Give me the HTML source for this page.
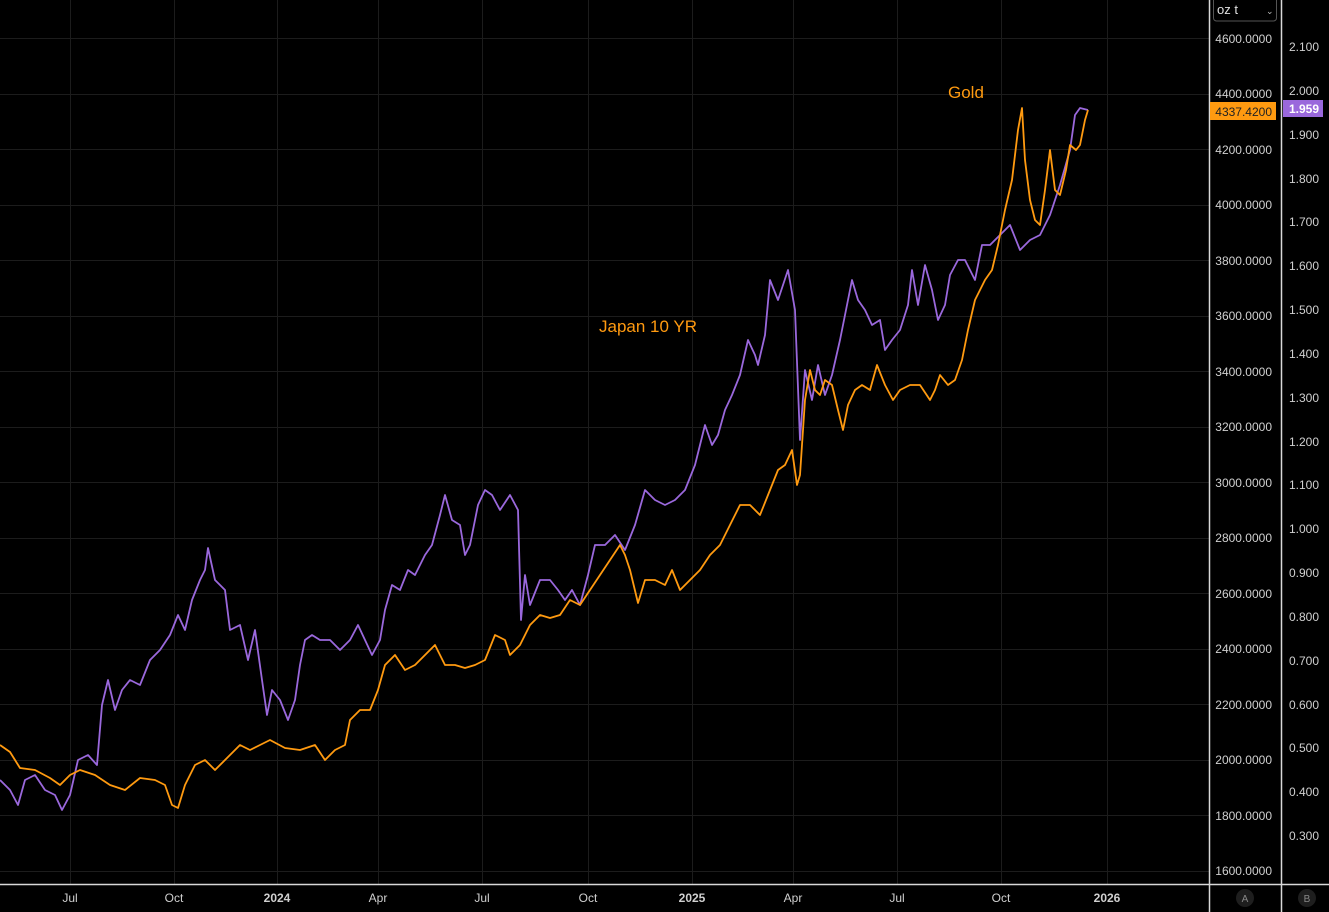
<!DOCTYPE html>
<html><head><meta charset="utf-8"><style>
html,body{margin:0;padding:0;background:#000;}
svg{display:block;font-family:"Liberation Sans",sans-serif;}
</style></head><body>
<svg width="1329" height="912" viewBox="0 0 1329 912" xmlns="http://www.w3.org/2000/svg">
<rect width="1329" height="912" fill="#000"/>
<g stroke="#1c1c1c" stroke-width="1">
<line x1="0" x2="1209" y1="38.5" y2="38.5"/><line x1="0" x2="1209" y1="94.5" y2="94.5"/>
<line x1="0" x2="1209" y1="149.5" y2="149.5"/><line x1="0" x2="1209" y1="205.5" y2="205.5"/>
<line x1="0" x2="1209" y1="260.5" y2="260.5"/><line x1="0" x2="1209" y1="316.5" y2="316.5"/>
<line x1="0" x2="1209" y1="371.5" y2="371.5"/><line x1="0" x2="1209" y1="427.5" y2="427.5"/>
<line x1="0" x2="1209" y1="482.5" y2="482.5"/><line x1="0" x2="1209" y1="538.5" y2="538.5"/>
<line x1="0" x2="1209" y1="593.5" y2="593.5"/><line x1="0" x2="1209" y1="649.5" y2="649.5"/>
<line x1="0" x2="1209" y1="704.5" y2="704.5"/><line x1="0" x2="1209" y1="760.5" y2="760.5"/>
<line x1="0" x2="1209" y1="815.5" y2="815.5"/><line x1="0" x2="1209" y1="871.5" y2="871.5"/>
<line y1="0" y2="884" x1="70.5" x2="70.5"/><line y1="0" y2="884" x1="174.5" x2="174.5"/>
<line y1="0" y2="884" x1="277.5" x2="277.5"/><line y1="0" y2="884" x1="378.5" x2="378.5"/>
<line y1="0" y2="884" x1="482.5" x2="482.5"/><line y1="0" y2="884" x1="588.5" x2="588.5"/>
<line y1="0" y2="884" x1="692.5" x2="692.5"/><line y1="0" y2="884" x1="793.5" x2="793.5"/>
<line y1="0" y2="884" x1="897.5" x2="897.5"/><line y1="0" y2="884" x1="1001.5" x2="1001.5"/>
<line y1="0" y2="884" x1="1107.5" x2="1107.5"/>
</g>
<g stroke="#d8d8d8" stroke-width="1.5">
<line x1="1209.5" x2="1209.5" y1="0" y2="912"/>
<line x1="1281.5" x2="1281.5" y1="0" y2="912"/>
<line x1="0" x2="1329" y1="884.5" y2="884.5"/>
</g>
<polyline fill="none" stroke="#9a68dc" stroke-width="1.8" stroke-linejoin="round" points="0,780 10,790 18,805 25,780 35,775 45,790 55,795 62,810 70,795 78,760 88,755 97,765 102,705 108,680 115,710 122,690 130,680 140,685 150,660 160,650 170,635 178,615 185,630 192,600 200,580 205,570 208,548 215,580 225,590 230,630 240,625 248,660 255,630 262,680 267,715 272,690 280,700 288,720 295,700 300,665 305,640 312,635 320,640 330,640 340,650 350,640 358,625 365,640 372,655 380,640 385,610 392,585 400,590 408,570 415,575 425,555 432,545 440,515 445,495 452,520 460,525 465,555 470,545 478,505 485,490 492,495 500,510 510,495 518,510 521,620 525,575 530,605 540,580 550,580 558,590 565,600 572,590 580,605 588,575 595,545 605,545 615,535 625,550 635,525 645,490 655,500 665,505 675,500 685,490 695,465 705,425 712,445 718,435 725,410 732,395 740,375 748,340 755,355 758,365 765,335 770,280 778,300 788,270 795,310 800,440 805,370 812,400 818,365 825,395 832,375 840,340 848,300 852,280 858,300 865,310 872,325 880,320 885,350 892,340 900,330 908,305 912,270 918,305 925,265 932,290 938,320 945,305 950,275 958,260 965,260 970,270 975,280 982,245 990,245 1000,235 1010,225 1020,250 1030,240 1040,235 1050,215 1060,185 1070,150 1075,115 1080,108 1088,110"/>
<polyline fill="none" stroke="#ff9a10" stroke-width="1.8" stroke-linejoin="round" points="0,745 10,752 20,768 35,770 50,778 60,785 70,775 80,770 95,775 110,785 125,790 140,778 155,780 165,785 172,805 178,808 185,785 195,765 205,760 215,770 225,760 240,745 250,750 260,745 270,740 285,748 300,750 315,745 325,760 335,750 345,745 350,720 360,710 370,710 378,690 385,665 395,655 405,670 415,665 425,655 435,645 445,665 455,665 465,668 475,665 485,660 495,635 505,640 510,655 520,645 530,625 540,615 550,618 560,615 570,600 580,605 590,590 600,575 610,560 620,545 625,555 630,570 638,603 645,580 655,580 665,585 672,570 680,590 690,580 700,570 710,555 720,545 730,525 740,505 750,505 760,515 768,495 778,470 785,465 792,450 797,485 800,475 805,400 810,370 815,390 820,395 825,380 832,385 838,410 843,430 848,405 855,390 862,385 870,390 877,365 885,385 893,400 900,390 910,385 920,385 930,400 935,390 940,375 948,385 955,380 962,360 968,330 975,300 985,280 992,270 998,245 1005,210 1012,180 1018,130 1022,108 1025,160 1030,200 1035,220 1040,225 1045,190 1050,150 1055,190 1060,195 1066,170 1070,145 1076,150 1080,145 1085,120 1088,110"/>
<text x="948" y="98" fill="#ff9a10" font-size="17">Gold</text>
<text x="599" y="332" fill="#ff9a10" font-size="17">Japan 10 YR</text>
<g fill="#d0d0d0" font-size="12" text-anchor="end">
<text x="1272" y="43">4600.0000</text><text x="1272" y="98">4400.0000</text>
<text x="1272" y="154">4200.0000</text><text x="1272" y="209">4000.0000</text>
<text x="1272" y="265">3800.0000</text><text x="1272" y="320">3600.0000</text>
<text x="1272" y="376">3400.0000</text><text x="1272" y="431">3200.0000</text>
<text x="1272" y="487">3000.0000</text><text x="1272" y="542">2800.0000</text>
<text x="1272" y="598">2600.0000</text><text x="1272" y="653">2400.0000</text>
<text x="1272" y="709">2200.0000</text><text x="1272" y="764">2000.0000</text>
<text x="1272" y="820">1800.0000</text><text x="1272" y="875">1600.0000</text>
</g>
<g fill="#d0d0d0" font-size="12" text-anchor="end">
<text x="1319" y="51">2.100</text><text x="1319" y="95">2.000</text>
<text x="1319" y="139">1.900</text><text x="1319" y="183">1.800</text>
<text x="1319" y="226">1.700</text><text x="1319" y="270">1.600</text>
<text x="1319" y="314">1.500</text><text x="1319" y="358">1.400</text>
<text x="1319" y="402">1.300</text><text x="1319" y="446">1.200</text>
<text x="1319" y="489">1.100</text><text x="1319" y="533">1.000</text>
<text x="1319" y="577">0.900</text><text x="1319" y="621">0.800</text>
<text x="1319" y="665">0.700</text><text x="1319" y="709">0.600</text>
<text x="1319" y="752">0.500</text><text x="1319" y="796">0.400</text>
<text x="1319" y="840">0.300</text>
</g>
<rect x="1210" y="102" width="66" height="18" fill="#ff9a10"/>
<text x="1272" y="116" fill="#222" font-size="12" text-anchor="end">4337.4200</text>
<rect x="1283" y="100" width="40" height="17" fill="#9a68dc"/>
<text x="1319" y="113" fill="#fff" font-size="12" font-weight="bold" text-anchor="end">1.959</text>
<rect x="1213.5" y="-3" width="63" height="24" rx="3" fill="#000" stroke="#555"/>
<text x="1217" y="14" fill="#e0e0e0" font-size="13">oz t</text>
<text x="1266" y="14" fill="#bbb" font-size="9">⌄</text>
<g fill="#d0d0d0" font-size="12" text-anchor="middle">
<text x="70" y="902">Jul</text><text x="174" y="902">Oct</text>
<text x="277" y="902" font-weight="bold">2024</text><text x="378" y="902">Apr</text>
<text x="482" y="902">Jul</text><text x="588" y="902">Oct</text>
<text x="692" y="902" font-weight="bold">2025</text><text x="793" y="902">Apr</text>
<text x="897" y="902">Jul</text><text x="1001" y="902">Oct</text>
<text x="1107" y="902" font-weight="bold">2026</text>
</g>
<circle cx="1245" cy="898" r="9" fill="#1e1e1e"/>
<text x="1245" y="902" fill="#888" font-size="10" text-anchor="middle">A</text>
<circle cx="1307" cy="898" r="9" fill="#1e1e1e"/>
<text x="1307" y="902" fill="#888" font-size="10" text-anchor="middle">B</text>
</svg>
</body></html>
